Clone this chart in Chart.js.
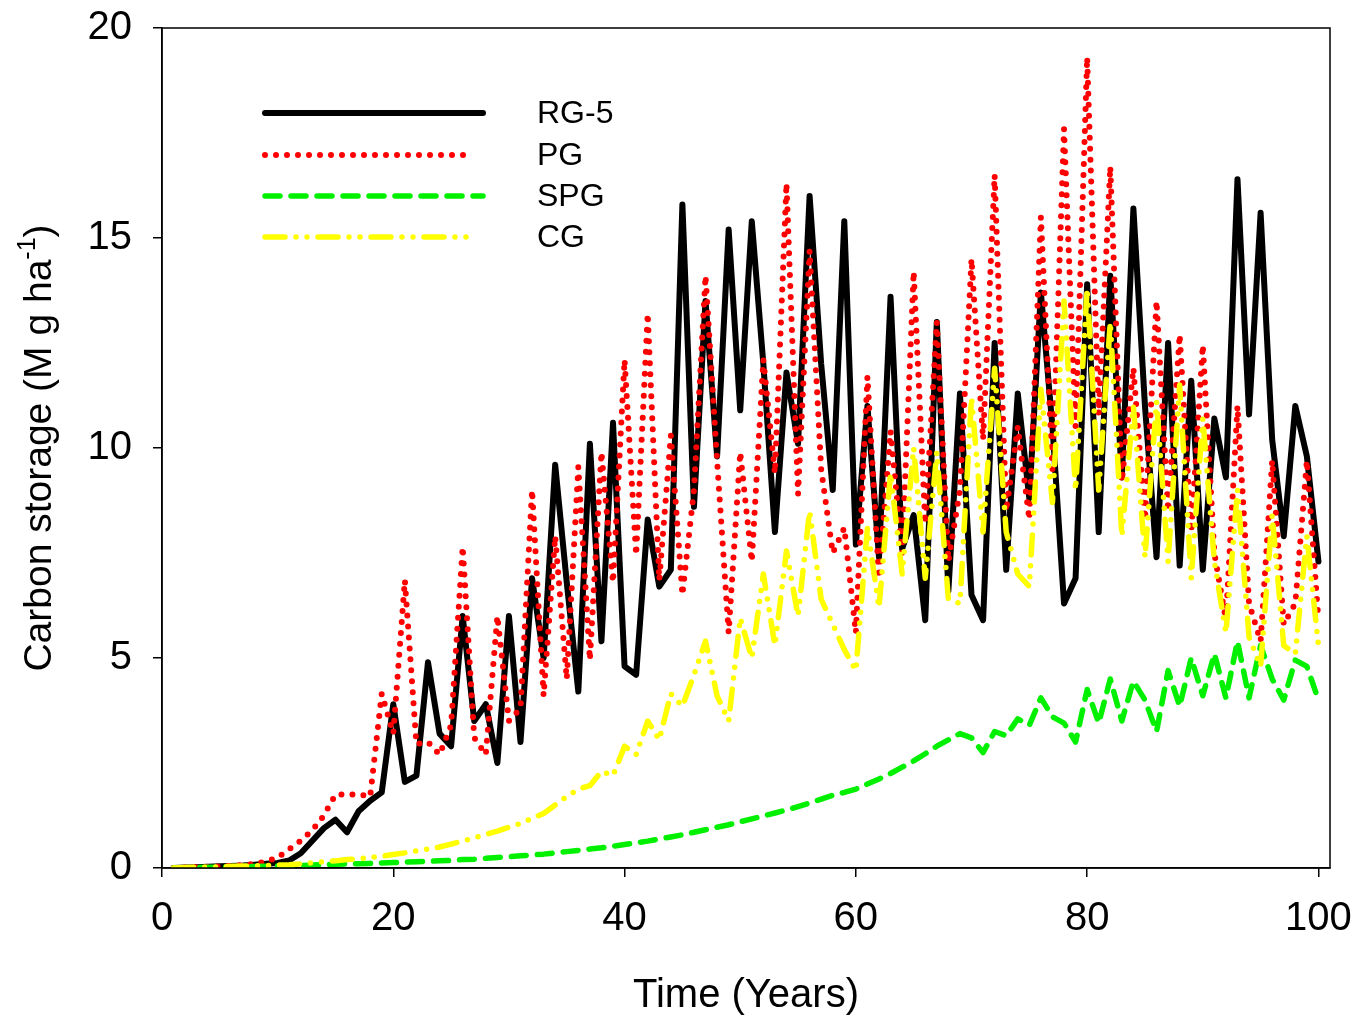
<!DOCTYPE html>
<html>
<head>
<meta charset="utf-8">
<script src="https://cdn.jsdelivr.net/npm/chart.js@4.4.0/dist/chart.umd.min.js"></script>
<style>
html,body{margin:0;padding:0;background:#fff;}
#wrap{width:1365px;height:1018px;}
</style>
</head>
<body>
<div id="wrap"><canvas id="c" width="1365" height="1018"></canvas></div>
<script>
const years = [1,2,3,4,5,6,7,8,9,10,11,12,13,14,15,16,17,18,19,20,21,22,23,24,25,26,27,28,29,30,31,32,33,34,35,36,37,38,39,40,41,42,43,44,45,46,47,48,49,50,51,52,53,54,55,56,57,58,59,60,61,62,63,64,65,66,67,68,69,70,71,72,73,74,75,76,77,78,79,80,81,82,83,84,85,86,87,88,89,90,91,92,93,94,95,96,97,98,99,100];

const rg5 = [0,0.01,0.02,0.03,0.04,0.05,0.06,0.08,0.1,0.12,
0.18,0.35,0.65,0.95,1.15,0.85,1.35,1.6,1.8,3.9,
2.05,2.2,4.9,3.2,2.9,6.0,3.5,3.9,2.5,6.0,
3.0,6.9,5.0,9.6,6.8,4.2,10.1,5.4,10.6,4.8,
4.6,8.3,6.7,7.1,15.8,8.6,13.5,9.8,15.2,10.9,
15.4,12.0,8.0,11.8,10.1,16.0,12.0,9.0,15.4,7.7,
11.0,7.4,13.6,7.6,8.4,5.9,13.0,6.6,11.3,6.5,
5.9,12.5,7.1,11.3,8.8,13.7,10.5,6.3,6.9,13.9,
8.0,14.1,9.3,15.7,11.0,7.4,12.5,7.2,11.6,7.1,
10.7,9.3,16.4,10.8,15.6,10.2,7.9,11.0,9.8,7.3];

const pg = [0,0.01,0.02,0.03,0.04,0.05,0.07,0.1,0.15,0.25,
0.45,0.65,0.9,1.25,1.75,1.75,1.75,1.7,4.15,3.2,
6.85,2.95,3.0,2.7,3.4,7.65,3.1,2.7,6.0,3.5,
3.8,9.0,4.1,7.9,4.5,9.55,4.95,9.9,6.8,12.1,
7.45,13.2,6.85,10.3,6.5,9.0,14.1,9.7,5.6,9.9,
7.3,12.1,9.4,16.3,8.9,14.7,9.5,7.5,8.1,5.6,
11.7,6.9,10.4,7.5,14.2,8.2,13.0,7.3,9.0,14.5,
10.2,16.5,8.5,10.5,8.3,15.5,9.5,17.6,10.5,19.3,
10.8,16.7,9.2,11.9,8.3,13.5,8.5,12.7,8.0,12.45,
7.5,5.9,11.0,6.3,5.4,9.7,5.8,6.3,9.7,5.9];

const spg = [0,0.005,0.01,0.015,0.02,0.025,0.03,0.035,0.04,0.05,
0.055,0.06,0.07,0.08,0.09,0.1,0.1,0.11,0.12,0.13,
0.14,0.15,0.16,0.17,0.18,0.2,0.21,0.23,0.25,0.27,
0.29,0.31,0.33,0.36,0.39,0.42,0.45,0.48,0.52,0.56,
0.6,0.64,0.69,0.74,0.79,0.85,0.91,0.97,1.03,1.1,
1.17,1.24,1.31,1.38,1.46,1.55,1.64,1.73,1.8,1.88,
2.0,2.12,2.25,2.4,2.55,2.72,2.9,3.05,3.2,3.1,
2.75,3.25,3.15,3.55,3.4,4.05,3.6,3.45,3.0,4.25,
3.45,4.5,3.5,4.45,4.0,3.25,4.7,3.85,5.0,4.1,
5.1,4.05,5.4,4.05,5.3,4.5,4.0,4.95,4.8,4.0];

const cg = [0,0.01,0.02,0.02,0.03,0.04,0.05,0.05,0.06,0.07,
0.08,0.1,0.12,0.15,0.17,0.2,0.22,0.25,0.28,0.32,
0.36,0.41,0.45,0.5,0.57,0.64,0.72,0.8,0.88,0.97,
1.06,1.18,1.3,1.5,1.7,1.88,1.96,2.3,2.2,2.9,
2.7,3.5,3.05,4.15,3.85,4.6,5.4,4.1,3.5,5.95,
5.0,7.0,5.3,7.55,6.0,8.5,6.4,5.8,5.2,4.7,
8.1,6.2,9.4,7.0,10.0,6.9,9.9,6.4,6.3,11.2,
8.0,11.9,8.0,7.0,6.7,11.4,8.7,13.5,9.0,13.8,
9.0,13.0,7.9,11.0,7.4,11.1,7.3,11.5,6.9,10.7,
7.3,5.6,9.0,5.5,4.8,8.4,5.3,5.1,7.9,5.3];

const seriesNames = ['RG-5','PG','SPG','CG'];
const xTicks = [0,20,40,60,80,100];
const yTicks = [0,5,10,15,20];

const FONT = '"Liberation Sans", Arial, Helvetica, sans-serif';
Chart.defaults.font.family = FONT;
Chart.defaults.color = '#000';

const styles = [
  {color:'#000000', width:6, dash:[], cap:'round'},
  {color:'#ff0000', width:6, dash:[0,11], cap:'round'},
  {color:'#00f000', width:5.5, dash:[15,11], cap:'round'},
  {color:'#ffff00', width:5.5, dash:[20,11,0,11,0,11], cap:'round'}
];
const seriesValues = [rg5, pg, spg, cg];
const orders = [4,3,2,1];

const datasets = seriesValues.map((vals, k) => ({
  label: seriesNames[k],
  data: years.map((yr, i) => ({x: yr, y: vals[i]})),
  borderColor: styles[k].color,
  borderWidth: styles[k].width,
  borderDash: styles[k].dash,
  borderCapStyle: styles[k].cap,
  borderJoinStyle: 'round',
  pointRadius: 0,
  tension: 0,
  fill: false,
  order: orders[k]
}));

const legendY = [113, 155, 196, 237];
const legendEnds = [483, 473, 483, 470];

const decor = {
  id: 'decor',
  afterDraw(chart) {
    const ctx = chart.ctx, a = chart.chartArea;
    ctx.save();
    ctx.strokeStyle = '#000';
    ctx.lineWidth = 1.5;
    ctx.setLineDash([]);
    ctx.strokeRect(a.left, a.top, a.right - a.left, a.bottom - a.top);

    seriesNames.forEach((name, k) => {
      const s = styles[k];
      ctx.beginPath();
      ctx.strokeStyle = s.color;
      ctx.lineWidth = s.width;
      ctx.lineCap = s.cap;
      ctx.setLineDash(s.dash);
      ctx.lineDashOffset = 0;
      ctx.moveTo(265, legendY[k]);
      ctx.lineTo(legendEnds[k], legendY[k]);
      ctx.stroke();
      ctx.setLineDash([]);
      ctx.fillStyle = '#000';
      ctx.font = '32px ' + FONT;
      ctx.textAlign = 'left';
      ctx.textBaseline = 'middle';
      ctx.fillText(name, 537, legendY[k] + 1);
    });

    ctx.fillStyle = '#000';
    ctx.font = '40px ' + FONT;
    ctx.textAlign = 'center';
    ctx.textBaseline = 'middle';
    ctx.fillText('Time (Years)', (a.left + a.right) / 2, 996);

    ctx.save();
    ctx.translate(51, (a.top + a.bottom) / 2);
    ctx.rotate(-Math.PI / 2);
    ctx.textBaseline = 'alphabetic';
    ctx.textAlign = 'left';
    const main = 'Carbon storage (M g ha', sup = '-1', end = ')';
    const fMain = '39px ' + FONT, fSup = '25px ' + FONT;
    ctx.font = fMain; const w1 = ctx.measureText(main).width, w3 = ctx.measureText(end).width;
    ctx.font = fSup; const w2 = ctx.measureText(sup).width;
    let x0 = -(w1 + w2 + w3) / 2;
    ctx.font = fMain; ctx.fillText(main, x0, 0);
    ctx.font = fSup; ctx.fillText(sup, x0 + w1, -16);
    ctx.font = fMain; ctx.fillText(end, x0 + w1 + w2, 0);
    ctx.restore();
    ctx.restore();
  }
};

new Chart(document.getElementById('c'), {
  type: 'line',
  data: { datasets },
  options: {
    responsive: false,
    animation: false,
    devicePixelRatio: 1,
    layout: { autoPadding: false, padding: { top: 28, right: 35, left: 0, bottom: 0 } },
    plugins: { legend: { display: false }, tooltip: { enabled: false } },
    scales: {
      x: {
        type: 'linear', min: 0, max: 101,
        afterBuildTicks: s => { s.ticks = xTicks.map(v => ({value: v})); },
        afterFit: s => { s.height = 150; s.paddingLeft = 0; s.paddingRight = 0; },
        ticks: { font: { size: 40 }, color: '#000', padding: 18, maxRotation: 0 },
        grid: { drawOnChartArea: false, drawTicks: true, tickLength: 9, color: '#000', lineWidth: 1.5 },
        border: { display: true, color: '#000', width: 1.5 }
      },
      y: {
        type: 'linear', min: 0, max: 20,
        afterBuildTicks: s => { s.ticks = yTicks.map(v => ({value: v})); },
        afterFit: s => { s.width = 162; s.paddingTop = 0; s.paddingBottom = 0; },
        ticks: { font: { size: 40 }, color: '#000', padding: 21 },
        grid: { drawOnChartArea: false, drawTicks: true, tickLength: 9, color: '#000', lineWidth: 1.5 },
        border: { display: true, color: '#000', width: 1.5 }
      }
    }
  },
  plugins: [decor]
});
</script>
</body>
</html>
